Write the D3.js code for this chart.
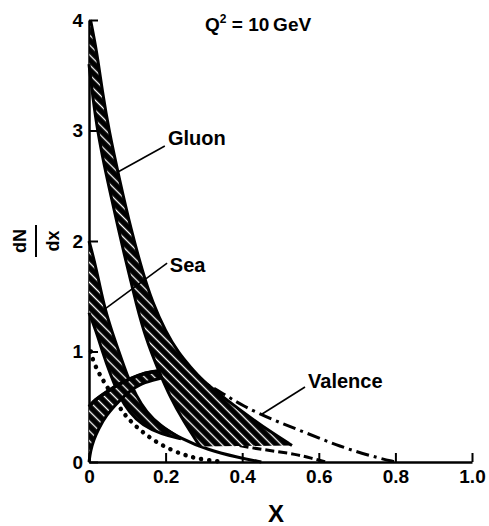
<!DOCTYPE html>
<html>
<head>
<meta charset="utf-8">
<script src="https://cdn.jsdelivr.net/npm/d3@7"></script>
<style>
  body { margin: 0; background: #fff; }
  svg { display: block; }
</style>
</head>
<body>
<svg id="chart"></svg>
<script>
// ticks
var xTicks = [0, 0.2, 0.4, 0.6, 0.8, 1.0]
var yTicks = [0, 1, 2, 3, 4]

// curves as [x, dN/dx]
var gluonUpper = [[0.004, 4.0], [0.02, 3.72], [0.035, 3.35], [0.052, 3.0], [0.08, 2.55],
  [0.11, 2.1], [0.14, 1.72], [0.165, 1.45], [0.2, 1.18], [0.235, 0.98], [0.265, 0.86],
  [0.295, 0.74], [0.36, 0.56], [0.43, 0.38], [0.48, 0.26], [0.53, 0.15]]
var gluonLower = [[0.0, 3.6], [0.01, 3.3], [0.022, 3.0], [0.04, 2.68], [0.058, 2.4],
  [0.076, 2.12], [0.092, 1.88], [0.107, 1.67], [0.122, 1.45], [0.148, 1.12], [0.18, 0.84],
  [0.213, 0.58], [0.245, 0.38], [0.29, 0.14]]

var seaUpper = [[0.0, 2.0], [0.012, 1.85], [0.028, 1.6], [0.042, 1.38], [0.06, 1.18],
  [0.08, 0.98], [0.1, 0.78], [0.123, 0.6], [0.15, 0.45], [0.185, 0.33], [0.24, 0.21],
  [0.31, 0.11], [0.39, 0.04], [0.45, 0.0]]
var seaLower = [[0.0, 1.35], [0.018, 1.19], [0.035, 1.0], [0.055, 0.8], [0.078, 0.6],
  [0.105, 0.45], [0.14, 0.33], [0.19, 0.25], [0.24, 0.21]]

var valenceUpper = [[0.0, 0.5], [0.015, 0.56], [0.044, 0.63], [0.08, 0.71], [0.13, 0.79],
  [0.167, 0.82], [0.2, 0.83]]
var valenceLower = [[0.0, 0.0], [0.004, 0.1], [0.012, 0.2], [0.025, 0.3], [0.044, 0.42],
  [0.078, 0.55], [0.105, 0.64], [0.13, 0.7], [0.167, 0.74], [0.2, 0.77]]
var valenceTail = [[0.2, 0.83], [0.25, 0.79], [0.3, 0.72], [0.35, 0.62], [0.4, 0.51],
  [0.48, 0.38], [0.57, 0.26], [0.655, 0.14], [0.74, 0.05], [0.8, 0.0]]

var dottedCurve = [[0.005, 1.0], [0.01, 0.92], [0.026, 0.8], [0.044, 0.7], [0.078, 0.5],
  [0.104, 0.38], [0.14, 0.27], [0.175, 0.18], [0.22, 0.1], [0.26, 0.05], [0.3, 0.02], [0.35, 0.0]]
var dashedCurve = [[0.36, 0.17], [0.42, 0.13], [0.48, 0.1], [0.54, 0.07], [0.58, 0.035], [0.62, 0.0]]

var width = 489, height = 526
var font = "'Liberation Sans', Arial, Helvetica, sans-serif"

var svg = d3.select("#chart").attr("width", width).attr("height", height)
svg.append("rect").attr("width", width).attr("height", height).attr("fill", "#fff")

var x = d3.scaleLinear().domain([0, 1]).range([89, 472])
var y = d3.scaleLinear().domain([0, 4]).range([462, 20])

var line = d3.line()
  .x(function(d) { return x(d[0]) })
  .y(function(d) { return y(d[1]) })
  .curve(d3.curveBasis)

function band(a, b) {
  return line(a) + line(b.slice().reverse()).replace(/^M/, "L") + "Z"
}

// hatch pattern: black with thin white diagonal lines
var defs = svg.append("defs")
var pat = defs.append("pattern")
  .attr("id", "hatch")
  .attr("patternUnits", "userSpaceOnUse")
  .attr("width", 7).attr("height", 7)
  .attr("patternTransform", "rotate(45)")
pat.append("rect").attr("width", 7).attr("height", 7).attr("fill", "#000")
pat.append("line").attr("x1", 0).attr("x2", 7).attr("y1", 3.5).attr("y2", 3.5)
  .attr("stroke", "#fff").attr("stroke-width", 1.3)

// axes
svg.append("g")
  .attr("transform", "translate(0," + y(0) + ")")
  .call(d3.axisBottom(x).tickValues(xTicks).tickSize(-9).tickSizeOuter(0).tickPadding(8)
    .tickFormat(function(d) { return d === 0 ? "0" : d3.format(".1f")(d) }))
svg.append("g")
  .attr("transform", "translate(" + x(0) + ",0)")
  .call(d3.axisLeft(y).tickValues(yTicks).tickSize(-9).tickSizeOuter(0).tickPadding(6)
    .tickFormat(d3.format("d")))

svg.selectAll(".domain").attr("stroke", "#000").attr("stroke-width", 2.5)
svg.selectAll(".tick line").attr("stroke", "#000").attr("stroke-width", 2)
svg.selectAll(".tick text")
  .attr("font-family", font).attr("font-size", 19).attr("font-weight", "bold").attr("fill", "#000")

// dotted curve
svg.append("path")
  .attr("d", line(dottedCurve))
  .attr("fill", "none").attr("stroke", "#000").attr("stroke-width", 4.5)
  .attr("stroke-linecap", "round").attr("stroke-dasharray", "0.1,8")

// dashed curve
svg.append("path")
  .attr("d", line(dashedCurve))
  .attr("fill", "none").attr("stroke", "#000").attr("stroke-width", 3)
  .attr("stroke-dasharray", "9,4")

// valence tail, dash-dot
svg.append("path")
  .attr("d", line(valenceTail))
  .attr("fill", "none").attr("stroke", "#000").attr("stroke-width", 3)
  .attr("stroke-dasharray", "13,5,3,5")

function drawBand(upper, lower) {
  svg.append("path")
    .attr("d", band(upper, lower))
    .attr("fill", "url(#hatch)").attr("stroke", "none")
  ;[upper, lower].forEach(function(edge) {
    svg.append("path")
      .attr("d", line(edge))
      .attr("fill", "none").attr("stroke", "#000").attr("stroke-width", 3)
  })
}

// sea band, then its tail beyond where the edges meet
var seaBandUpper = seaUpper.filter(function(d) { return d[0] <= 0.24 })
drawBand(seaBandUpper, seaLower)
svg.append("path")
  .attr("d", line(seaUpper.filter(function(d) { return d[0] >= 0.185 })))
  .attr("fill", "none").attr("stroke", "#000").attr("stroke-width", 3)

drawBand(valenceUpper, valenceLower)
svg.append("path")
  .attr("d", line(valenceUpper.concat(valenceTail.slice(1, 3))))
  .attr("fill", "none").attr("stroke", "#000").attr("stroke-width", 3.5)

drawBand(gluonUpper, gluonLower)

// labels and pointer lines
function label(txt, px, py) {
  svg.append("text")
    .attr("x", x(px)).attr("y", y(py))
    .attr("font-family", font).attr("font-size", 20).attr("font-weight", "bold")
    .text(txt)
}
function pointer(a, b) {
  svg.append("line")
    .attr("x1", x(a[0])).attr("y1", y(a[1]))
    .attr("x2", x(b[0])).attr("y2", y(b[1]))
    .attr("stroke", "#000").attr("stroke-width", 1.6)
}

label("Gluon", 0.206, 2.87)
pointer([0.198, 2.86], [0.073, 2.62])
label("Sea", 0.211, 1.72)
pointer([0.204, 1.80], [0.042, 1.385])
label("Valence", 0.572, 0.67)
pointer([0.564, 0.679], [0.452, 0.434])

var q = svg.append("text")
  .attr("x", x(0.303)).attr("y", y(3.9))
  .attr("font-family", font).attr("font-size", 19).attr("font-weight", "bold")
q.append("tspan").text("Q")
q.append("tspan").attr("font-size", 12).attr("dy", -8).text("2")
q.append("tspan").attr("dy", 8).text(" = 10\u2009GeV")

// axis titles
svg.append("text")
  .attr("x", x(0.488)).attr("y", 522)
  .attr("text-anchor", "middle")
  .attr("font-family", font).attr("font-size", 24).attr("font-weight", "bold")
  .text("X")

var yt = svg.append("g").attr("transform", "translate(36," + y(2) + ") rotate(-90)")
yt.append("text").attr("x", 0).attr("y", -10).attr("text-anchor", "middle")
  .attr("font-family", font).attr("font-size", 18).attr("font-weight", "bold").text("dN")
yt.append("line").attr("x1", -16).attr("x2", 16).attr("y1", 0).attr("y2", 0)
  .attr("stroke", "#000").attr("stroke-width", 2)
yt.append("text").attr("x", 0).attr("y", 23).attr("text-anchor", "middle")
  .attr("font-family", font).attr("font-size", 18).attr("font-weight", "bold").text("dx")
</script>
</body>
</html>
